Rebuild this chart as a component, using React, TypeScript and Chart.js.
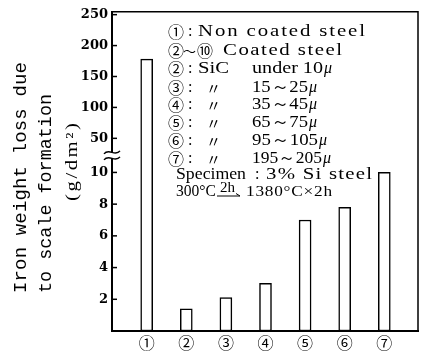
import { useEffect, useRef } from "react";
import { Chart, registerables } from "chart.js";

Chart.register(...registerables);

// ---- data ----
const CATEGORIES = ["①", "②", "③", "④", "⑤", "⑥", "⑦"];
const POSITIONS = [1, 2, 3, 4, 5, 6, 7];
const WEIGHT_LOSS = [178, 1.4, 2.1, 3.0, 7.0, 7.8, 10.0];
const Y_TICKS = [2, 4, 6, 8, 10, 50, 100, 150, 200, 250];
const TITLE_LINES = ["Iron weight loss due", "to scale formation"];
const UNIT = "(g/dm²)";

// broken axis: 0..10 linear, then 50..250 compressed
const LOW_MAX = 10;
const HIGH_MIN = 50;
const BREAK_AT = 12.15;
const HIGH_RATE = 0.039;
const toAxis = (v: number) => (v <= LOW_MAX ? v : BREAK_AT + (v - HIGH_MIN) * HIGH_RATE);

const SERIF = '"Liberation Serif", serif';
const CJK = '"Noto Sans CJK JP", sans-serif';

function fitText(
  ctx: CanvasRenderingContext2D,
  text: string,
  x: number,
  y: number,
  width?: number,
  maxStretch = 1.3
) {
  const chars = Array.from(text);
  const ws = chars.map((c) => ctx.measureText(c).width);
  const natural = ws.reduce((a, b) => a + b, 0);
  let sx = 1;
  let gap = 0;
  if (width != null) {
    sx = Math.min(Math.max(width / natural, 0.8), maxStretch);
    gap = chars.length > 1 ? (width - natural * sx) / (chars.length - 1) : 0;
  }
  ctx.save();
  ctx.translate(x, y);
  ctx.scale(sx, 1);
  let cx = 0;
  chars.forEach((c, i) => {
    ctx.fillText(c, cx, 0);
    cx += ws[i] + gap / sx;
  });
  ctx.restore();
}

type Seg = { t: string; x: number; w?: number; f?: string; dy?: number; s?: number };

const decor = {
  id: "decor",
  afterDraw(chart: any) {
    const { ctx, chartArea: a, scales } = chart;
    const y = scales.y;
    ctx.save();
    ctx.strokeStyle = "#000";
    ctx.fillStyle = "#000";

    // frame top & right
    ctx.lineWidth = 1.5;
    ctx.beginPath();
    ctx.moveTo(a.left, a.top);
    ctx.lineTo(a.right, a.top);
    ctx.lineTo(a.right, a.bottom);
    ctx.stroke();

    // inward tick marks
    ctx.lineWidth = 1.5;
    Y_TICKS.forEach((v) => {
      const py = y.getPixelForValue(toAxis(v));
      ctx.beginPath();
      ctx.moveTo(a.left, py);
      ctx.lineTo(a.left + 5, py);
      ctx.stroke();
    });

    // axis break
    const mid = (y.getPixelForValue(toAxis(LOW_MAX)) + y.getPixelForValue(toAxis(HIGH_MIN))) / 2;
    ctx.fillStyle = "#fff";
    ctx.fillRect(a.left - 2, mid - 3, 4, 6);
    ctx.fillStyle = "#000";
    ctx.lineWidth = 1.4;
    [mid - 3, mid + 3].forEach((wy) => {
      ctx.beginPath();
      ctx.moveTo(a.left - 8, wy + 1.5);
      ctx.bezierCurveTo(a.left - 3, wy - 5, a.left + 3, wy + 5, a.left + 8, wy - 1.5);
      ctx.stroke();
    });

    // y-axis titles (rotated)
    const rot = (text: string, cx: number, sy: number, width: number, font: string, stretch: number) => {
      ctx.save();
      ctx.translate(cx, sy);
      ctx.rotate(-Math.PI / 2);
      ctx.font = font;
      ctx.textAlign = "left";
      ctx.textBaseline = "middle";
      fitText(ctx, text, 0, 0, width, stretch);
      ctx.restore();
    };
    const mono = '19px "Liberation Mono", monospace';
    rot(TITLE_LINES[0], 21, 293, 231, mono, 1);
    rot(TITLE_LINES[1], 46, 293, 199, mono, 1);
    rot(UNIT, 73, 201, 78, `16px ${SERIF}`, 1.3);

    // note block
    const FS = `16px ${SERIF}`;
    const FC = `16px ${CJK}`;
    const FM = `italic 16px ${SERIF}`;
    const circ = (t: string, x = 168): Seg => ({ t, x, f: FC });
    const colon: Seg = { t: ":", x: 188 };
    const ditto: Seg = { t: "〃", x: 206, f: `15px ${CJK}` };
    const rows: [number, Seg[]][] = [
      [32, [circ("①"), colon, { t: "Non coated steel", x: 198, w: 167 }]],
      [51, [circ("②"), { t: "～", x: 183, f: `13px ${CJK}` }, circ("⑩", 197), { t: "Coated steel", x: 223, w: 119 }]],
      [69, [circ("②"), colon, { t: "SiC", x: 198, w: 31 }, { t: "under 10", x: 252, w: 71 }, { t: "μ", x: 324, f: FM }]],
      [88, [circ("③"), colon, ditto, { t: "15～25", x: 252, w: 56 }, { t: "μ", x: 309, f: FM }]],
      [105, [circ("④"), colon, ditto, { t: "35～45", x: 252, w: 56 }, { t: "μ", x: 309, f: FM }]],
      [123, [circ("⑤"), colon, ditto, { t: "65～75", x: 252, w: 56 }, { t: "μ", x: 309, f: FM }]],
      [141, [circ("⑥"), colon, ditto, { t: "95～105", x: 252, w: 66 }, { t: "μ", x: 319, f: FM }]],
      [159, [circ("⑦"), colon, ditto, { t: "195～205", x: 252, w: 70 }, { t: "μ", x: 323, f: FM }]],
      [175, [{ t: "Specimen", x: 176, w: 70 }, { t: ":", x: 255 }, { t: "3% Si steel", x: 266, w: 106 }]],
      [
        192,
        [
          { t: "300°C", x: 176, w: 40, f: `16px ${SERIF}`, s: 1 },
          { t: "2h", x: 220, w: 15, dy: -4, f: `15px ${SERIF}` },
          { t: "1380°C×2h", x: 246, w: 86, f: `15px ${SERIF}`, s: 1.15 },
        ],
      ],
    ];
    ctx.textAlign = "left";
    ctx.textBaseline = "middle";
    rows.forEach(([ry, segs]) => {
      segs.forEach((s) => {
        ctx.font = s.f ?? FS;
        fitText(ctx, s.t, s.x, ry + (s.dy ?? 0), s.w, s.s ?? 1.3);
      });
    });
    // arrow under "2h"
    ctx.lineWidth = 1;
    ctx.beginPath();
    ctx.moveTo(217, 196);
    ctx.lineTo(240, 196);
    ctx.moveTo(236, 193.5);
    ctx.lineTo(240, 196);
    ctx.stroke();

    ctx.restore();
  },
};

export default function App() {
  const ref = useRef<HTMLCanvasElement | null>(null);
  useEffect(() => {
    document.body.style.margin = "0";
    const canvas = ref.current;
    if (!canvas) return;
    Chart.defaults.color = "#000";
    const chart = new Chart(canvas, {
      type: "bar",
      data: {
        datasets: [
          {
            data: POSITIONS.map((x, i) => ({ x, y: toAxis(WEIGHT_LOSS[i]) })),
            backgroundColor: "#fff",
            borderColor: "#000",
            borderWidth: 1.5,
            borderSkipped: false,
            barThickness: 12,
          } as any,
        ],
      },
      options: {
        animation: false,
        responsive: false,
        maintainAspectRatio: false,
        layout: { padding: { left: 0, top: 11, right: 5, bottom: 0 } },
        plugins: { legend: { display: false }, tooltip: { enabled: false } },
        scales: {
          x: {
            type: "linear",
            min: 0.124,
            max: 7.851,
            offset: false,
            afterBuildTicks: (s: any) => {
              s.ticks = POSITIONS.map((v) => ({ value: v }));
            },
            afterFit: (s: any) => {
              s.height = 20;
            },
            ticks: {
              callback: (v: any) => CATEGORIES[POSITIONS.indexOf(Number(v))] ?? "",
              font: { family: "Noto Sans CJK JP", size: 16 },
              color: "#000",
              padding: 2,
              autoSkip: false,
              maxRotation: 0,
            },
            grid: { display: false, drawTicks: false, offset: false },
            border: { display: true, color: "#000", width: 2 },
          },
          y: {
            min: 0,
            max: 20.13,
            afterBuildTicks: (s: any) => {
              s.ticks = Y_TICKS.map((v) => ({ value: toAxis(v) }));
            },
            afterFit: (s: any) => {
              s.width = 112;
            },
            ticks: {
              callback: (_v: any, i: number) => String(Y_TICKS[i]),
              font: { family: "DejaVu Serif", size: 13, weight: "bold" },
              color: "#000",
              padding: 4,
              autoSkip: false,
            },
            grid: { display: false, drawTicks: false },
            border: { display: true, color: "#000", width: 2 },
          },
        },
      },
      plugins: [decor],
    } as any);
    return () => chart.destroy();
  }, []);
  return <canvas ref={ref} width={423} height={351} style={{ display: "block" }} />;
}
